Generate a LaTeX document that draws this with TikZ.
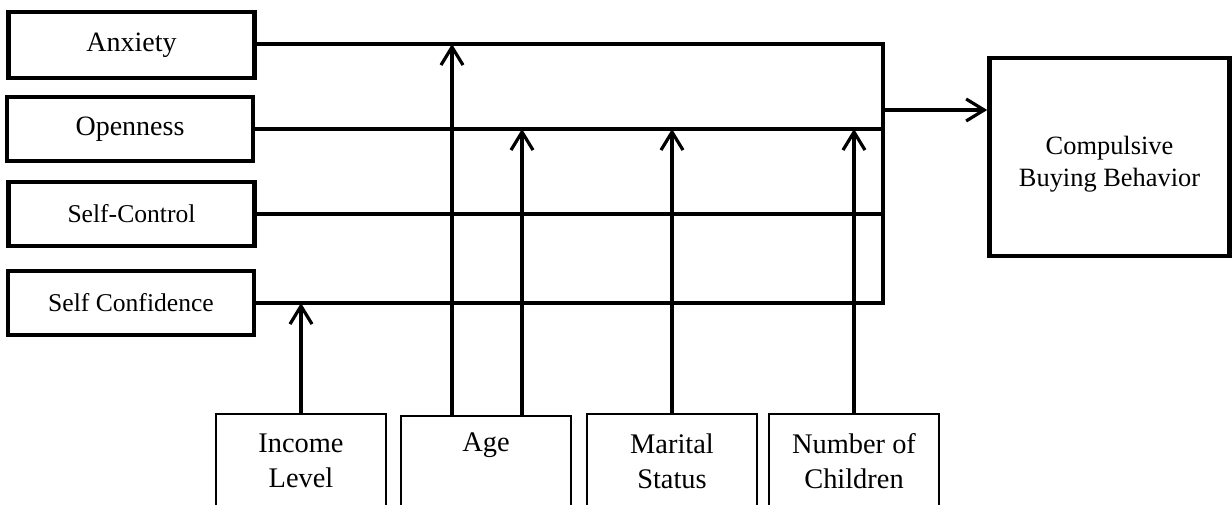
\documentclass[tikz,border=0pt]{standalone}
\usepackage{fontspec}
\setmainfont{Liberation Serif}
\usetikzlibrary{arrows.meta}

\begin{document}
\begin{tikzpicture}[x=0.5pt,y=-0.5pt,line width=1.6pt,
  >={Straight Barb[length=9pt,width=11pt]},
  trait/.style={draw,line width=2.3pt,minimum width=123pt,minimum height=32pt,
    font=\fontsize{14}{17}\selectfont},
  ctrl/.style={draw,line width=1.2pt,minimum width=85pt,minimum height=47pt,
    align=center,font=\fontsize{14.2}{17.5}\selectfont},
  result/.style={draw,line width=2.3pt,minimum width=120pt,minimum height=99pt}]
\useasboundingbox (0,0) rectangle (1232,504);
\clip (0,0) rectangle (1232,504);

% personality traits
\node[trait,minimum height=33pt] (anx) at (131.5,45) {Anxiety};
\node[trait] (opn) at (130,129) {Openness};
\node[trait,font=\fontsize{12.8}{15}\selectfont] (sctl) at (131.5,214) {Self-Control};
\node[trait,font=\fontsize{12.8}{15}\selectfont] (sconf) at (131,303) {Self Confidence};

\node[result,label={[align=center,yshift=-3.5pt,font=\fontsize{13.2}{16}\selectfont]center:Compulsive\\Buying Behavior}] (cbb) at (1109.5,157) {};

% control variables
\node[ctrl] (inc) at (301,461) {Income\\Level};
\node[ctrl] (age) at (486,463) {Age\\\phantom{Age}};
\node[ctrl] (mar) at (672,461) {Marital\\Status};
\node[ctrl] (noc) at (854,461) {Number of\\Children};

\coordinate (top) at (883,44);
\coordinate (out) at (883,110);

\draw (anx.east |- top) -- (top) -- (top |- sconf.east) -- (sconf.east);
\foreach \n in {opn,sctl}
\draw (\n.east) -- (\n.east -| top);
\draw[->] (out) -- (out -| cbb.west);

% moderating arrows
\draw[->] (inc.north) -- (inc.north |- sconf.east);
\draw[->] ([xshift=-17pt]age.north) -- ([xshift=-17pt]age.north |- top);
\draw[->] ([xshift=18pt]age.north) -- ([xshift=18pt]age.north |- opn.east);
\foreach \n in {mar,noc}
\draw[->] (\n.north) -- (\n.north |- opn.east);
\end{tikzpicture}
\end{document}
